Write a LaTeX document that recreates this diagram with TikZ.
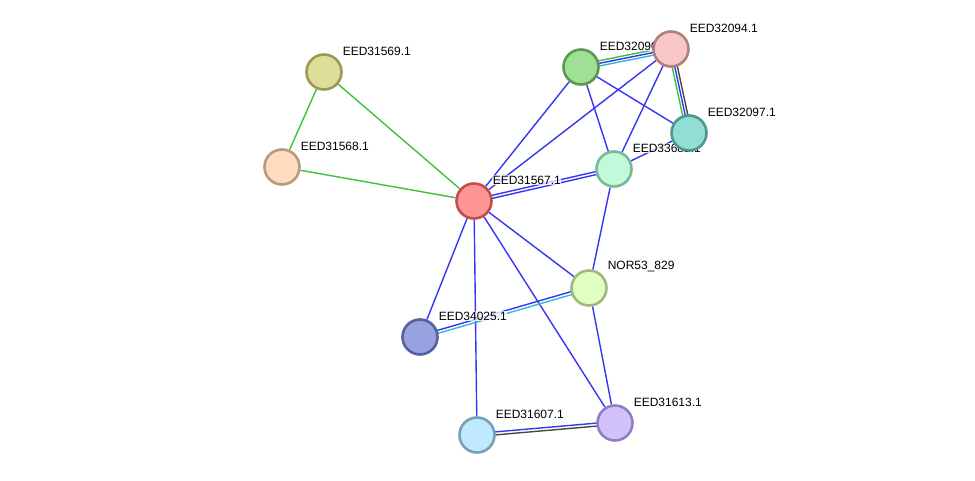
\documentclass[tikz,border=0pt]{standalone}
\usepackage{fontspec}
\setmainfont{Liberation Sans}
\usepackage{xcolor}
\usetikzlibrary{calc}

\definecolor{lnkgreen}{HTML}{3CC23C}
\definecolor{lnkblue}{HTML}{3535F5}
\definecolor{lnkcyan}{HTML}{35B8D8}
\definecolor{lnkblack}{HTML}{474747}

\pgfdeclarelayer{edges}
\pgfdeclarelayer{labels}
\pgfsetlayers{edges,labels,main}

% parallel link: from, to, offset, colour
\newcommand{\plink}[4]{%
  \draw[link, #4] ($(#1)!#3!90:(#2)$) -- ($(#2)!#3!-90:(#1)$);}

\begin{document}
\begin{tikzpicture}[
    x=1pt, y=-1pt,
    protein/.style={circle, minimum size=35pt, inner sep=0pt, line width=2.6pt},
    plabel/.style={font=\fontsize{12}{12}\selectfont, anchor=west, inner sep=0.6pt,
                   fill=white, fill opacity=0.75, text opacity=1},
    link/.style={line width=1.4pt}
]
\useasboundingbox (0,0) rectangle (975,481);

% 蛋白节点
\node[protein, fill={rgb,255:red,255;green,148;blue,148}, draw={rgb,255:red,192;green,80;blue,80}]   (p567)  at (474,201) {};
\node[protein, fill={rgb,255:red,222;green,222;blue,152}, draw={rgb,255:red,154;green,154;blue,84}]  (p569)  at (324,72)  {};
\node[protein, fill={rgb,255:red,255;green,220;blue,192}, draw={rgb,255:red,186;green,154;blue,122}] (p568)  at (282,167) {};
\node[protein, fill={rgb,255:red,160;green,224;blue,150}, draw={rgb,255:red,90;green,154;blue,80}]   (p2090) at (581,67)  {};
\node[protein, fill={rgb,255:red,248;green,198;blue,198}, draw={rgb,255:red,176;green,128;blue,128}] (p2094) at (671,49)  {};
\node[protein, fill={rgb,255:red,146;green,222;blue,212}, draw={rgb,255:red,80;green,150;blue,142}]  (p2097) at (689,133) {};
\node[protein, fill={rgb,255:red,192;green,250;blue,218}, draw={rgb,255:red,122;green,184;blue,154}] (p336)  at (614,169) {};
\node[protein, fill={rgb,255:red,224;green,255;blue,192}, draw={rgb,255:red,160;green,184;blue,128}] (nor)   at (589,288) {};
\node[protein, fill={rgb,255:red,152;green,162;blue,224}, draw={rgb,255:red,85;green,96;blue,160}]   (p025)  at (420,337) {};
\node[protein, fill={rgb,255:red,192;green,232;blue,255}, draw={rgb,255:red,122;green,160;blue,184}] (p607)  at (477,435) {};
\node[protein, fill={rgb,255:red,210;green,194;blue,250}, draw={rgb,255:red,144;green,128;blue,192}] (p613)  at (615,423) {};

% 标签
\begin{pgfonlayer}{labels}
\node[plabel] (l567)  at ($(p567)+(18,-21)$)  {EED31567.1};
\node[plabel] (l569)  at ($(p569)+(18,-21)$)  {EED31569.1};
\node[plabel] (l568)  at ($(p568)+(18,-21)$)  {EED31568.1};
\node[plabel] (l2090) at ($(p2090)+(18,-21)$) {EED32090.1};
\node[plabel] (l2094) at ($(p2094)+(18,-21)$) {EED32094.1};
\node[plabel] (l2097) at ($(p2097)+(18,-21)$) {EED32097.1};
\node[plabel] (l336)  at ($(p336)+(18,-21)$)  {EED33682.1};
\node[plabel] (lnor)  at ($(nor)+(18,-21)$)   {NOR53\_829};
\node[plabel] (l025)  at ($(p025)+(18,-21)$)  {EED34025.1};
\node[plabel] (l607)  at ($(p607)+(18,-21)$)  {EED31607.1};
\node[plabel] (l613)  at ($(p613)+(18,-21)$)  {EED31613.1};
\end{pgfonlayer}

% 相互作用连线
\begin{pgfonlayer}{edges}
\draw[link, lnkgreen] (p569) -- (p568);
\draw[link, lnkgreen] (p569) -- (p567);
\draw[link, lnkgreen] (p568) -- (p567);

\foreach \t in {p2090, p2094, nor, p025, p607, p613} {
    \draw[link, lnkblue] (p567) -- (\t);
}
\plink{p567}{p336}{1.5pt}{lnkblue}
\plink{p567}{p336}{-1.5pt}{lnkblue}

\plink{p2090}{p2094}{2.6pt}{lnkgreen}
\plink{p2090}{p2094}{0pt}{lnkblue}
\plink{p2090}{p2094}{-2.6pt}{lnkcyan}

\plink{p2094}{p2097}{-2.6pt}{lnkgreen}
\plink{p2094}{p2097}{0pt}{lnkblue}
\plink{p2094}{p2097}{2.6pt}{lnkblack}

\draw[link, lnkblue] (p2090) -- (p2097);
\draw[link, lnkblue] (p2090) -- (p336);
\draw[link, lnkblue] (p2094) -- (p336);
\draw[link, lnkblue] (p2097) -- (p336);
\draw[link, lnkblue] (p336) -- (nor);
\draw[link, lnkblue] (nor) -- (p613);

\plink{nor}{p025}{-1.5pt}{lnkblue}
\plink{nor}{p025}{1.5pt}{lnkcyan}

\plink{p607}{p613}{1.5pt}{lnkblue}
\plink{p607}{p613}{-1.5pt}{lnkblack}
\end{pgfonlayer}

\end{tikzpicture}
\end{document}
